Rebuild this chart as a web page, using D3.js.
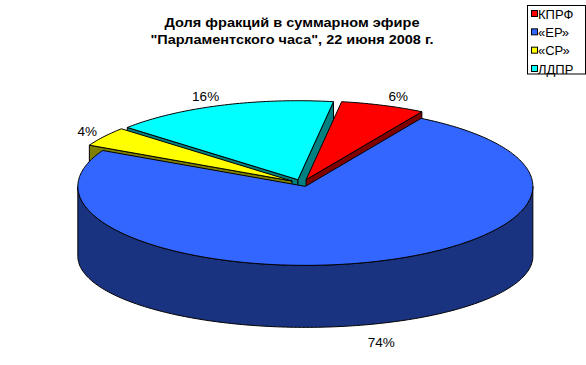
<!DOCTYPE html>
<html><head><meta charset="utf-8">
<script src="https://cdn.jsdelivr.net/npm/d3@7"></script>
<style>html,body{margin:0;padding:0;background:#fff;}svg{display:block;}</style>
</head><body>
<svg id="c" width="586" height="365"></svg>
<script>
const categories = ["КПРФ", "«ЕР»", "«СР»", "ЛДПР"];
const values = [6, 74, 4, 16];
const valueLabels = ["6%", "74%", "4%", "16%"];
const topColors = ["#FF0000", "#3366FF", "#FFFF00", "#00FFFF"];
const sideColors = ["#800000", "#1A3380", "#808000", "#008080"];
const titleLines = ["Доля фракций в суммарном эфире", "\"Парламентского часа\", 22 июня 2008 г."];

const svg = d3.select("#c");
svg.append("rect").attr("width",586).attr("height",365).attr("fill","#fff");

// geometry
const cx = 302, cy = 183, rx = 227.5, ryT = 79, ryB = 71, depth = 70;
const ex = 12, ey = 3.5;
const rot = 9 * Math.PI / 180;

const pie = d3.pie().sort(null).startAngle(rot).endAngle(rot + 2 * Math.PI);
const arcs = pie(values);

const off = d => { const m = (d.startAngle + d.endAngle) / 2; return [ex * Math.sin(m), -ey * Math.cos(m)]; };
const topPt = (t, o) => [cx + o[0] + rx * Math.sin(t), cy + o[1] - ryT * Math.cos(t)];
const botPt = (t, o) => [cx + o[0] + rx * Math.sin(t), cy + o[1] + depth - ryB * Math.cos(t)];
const sample = (a, b) => { const n = Math.max(2, Math.ceil(Math.abs(b - a) / (Math.PI / 180))); return d3.range(n + 1).map(i => a + (b - a) * i / n); };
const line = d3.line();

const g = svg.append("g");
const order = arcs.map((d, i) => ({d, i})).sort((p, q) => off(p.d)[1] - off(q.d)[1]);

order.forEach(({d, i}) => {
  const o = off(d);
  const a = d.startAngle, b = d.endAngle;
  const apexT = [cx + o[0], cy + o[1]];
  const apexB = [cx + o[0], cy + o[1] + depth];
  const face = pts => g.append("path").attr("d", line(pts) + "Z")
      .attr("fill", sideColors[i]).attr("stroke", "#000").attr("stroke-width", 1).attr("stroke-linejoin","round");
  // radial faces
  if (Math.sin(a) < 0) face([apexT, topPt(a, o), botPt(a, o), apexB]);
  if (Math.sin(b) > 0) face([apexT, topPt(b, o), botPt(b, o), apexB]);
  // outer rim front part (angles in [pi/2, 3pi/2] mod 2pi)
  for (let k = -1; k <= 1; k++) {
    const lo = Math.max(a, Math.PI / 2 + k * 2 * Math.PI), hi = Math.min(b, 1.5 * Math.PI + k * 2 * Math.PI);
    if (hi > lo) {
      const ts = sample(lo, hi);
      face(ts.map(t => topPt(t, o)).concat(ts.slice().reverse().map(t => botPt(t, o))));
    }
  }
  // top
  g.append("path").attr("d", line([apexT].concat(sample(a, b).map(t => topPt(t, o)))) + "Z")
    .attr("fill", topColors[i]).attr("stroke", "#000").attr("stroke-width", 1).attr("stroke-linejoin","round");
});

// value labels
const lf = "'Liberation Sans', Arial, sans-serif";
arcs.forEach((d, i) => {
  const o = off(d), m = (d.startAngle + d.endAngle) / 2;
  let x = cx + o[0] + (rx + 45) * Math.sin(m);
  let y = cy + o[1] - (ryT + 10) * Math.cos(m) + (Math.cos(m) < 0 ? depth : 0);
  const t = svg.append("text").attr("font-family", lf).attr("font-size", 13.5).attr("fill", "#000")
    .attr("text-anchor", "middle").text(valueLabels[i]);
  const w = t.node().getComputedTextLength();
  const minX = cx - rx + 3 + w / 2;
  if (x < minX) x = minX;
  t.attr("x", x).attr("y", y + 5);
});

// title
const titleW = [255, 283];
titleLines.forEach((s, k) => {
  svg.append("text").attr("x", 292).attr("y", 27 + k * 17).attr("text-anchor", "middle")
    .attr("font-family", lf).attr("font-weight", "bold").attr("font-size", 13)
    .attr("textLength", titleW[k]).attr("lengthAdjust", "spacingAndGlyphs").text(s);
});

// legend
const lg = svg.append("g");
lg.append("rect").attr("x", 527.5).attr("y", 5.5).attr("width", 58).attr("height", 68.5)
  .attr("fill", "#fff").attr("stroke", "#000").attr("stroke-width", 1);
const ly = d3.scalePoint().domain(categories).range([14, 69]);
categories.forEach((c, i) => {
  lg.append("rect").attr("x", 531.5).attr("y", ly(c) - 3.5).attr("width", 6).attr("height", 6)
    .attr("fill", topColors[i]).attr("stroke", "#000").attr("stroke-width", 1);
  lg.append("text").attr("x", 538).attr("y", ly(c) + 4.5).attr("font-family", lf).attr("font-size", 13)
    .attr("fill", "#000").text(c);
});
</script>
</body></html>
